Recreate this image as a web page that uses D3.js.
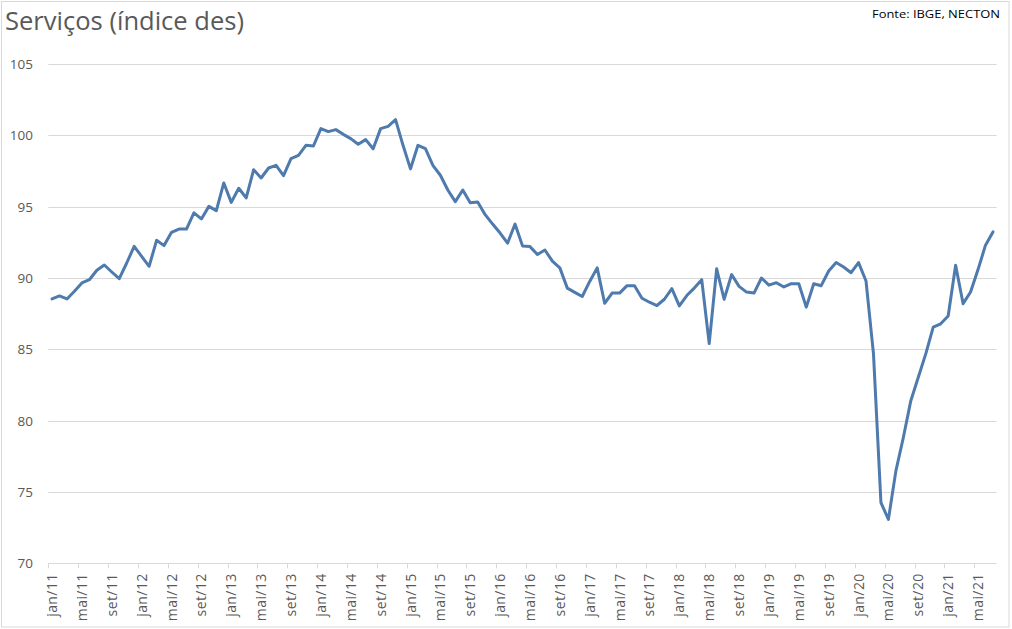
<!DOCTYPE html>
<html><head><meta charset="utf-8">
<script src="https://cdn.jsdelivr.net/npm/d3@7"></script>
<style>
html,body{margin:0;padding:0;background:#fff;}
svg{display:block;}
</style>
</head><body>
<svg id="chart" width="1012" height="629"></svg>
<script>
const title = "Serviços (índice des)";
const source = "Fonte: IBGE, NECTON";
const monthNames = ["jan","fev","mar","abr","mai","jun","jul","ago","set","out","nov","dez"];
const years = ["11","12","13","14","15","16","17","18","19","20","21"];
const yTicks = [70, 75, 80, 85, 90, 95, 100, 105];
const values = [
  88.53, 88.74, 88.53, 89.07, 89.65, 89.88, 90.54, 90.91, 90.42, 89.95, 91.05, 92.22,
  91.52, 90.82, 92.64, 92.27, 93.20, 93.43, 93.43, 94.56, 94.14, 95.02, 94.72, 96.66,
  95.30, 96.29, 95.61, 97.59, 97.01, 97.71, 97.90, 97.17, 98.36, 98.60, 99.30, 99.25,
  100.47, 100.26, 100.40, 100.07, 99.77, 99.37, 99.70, 99.06, 100.47, 100.63, 101.10, 99.30,
  97.65, 99.30, 99.06, 97.90, 97.20, 96.17, 95.35, 96.17, 95.28, 95.33, 94.44, 93.78,
  93.15, 92.44, 93.78, 92.25, 92.20, 91.65, 91.96, 91.18, 90.71, 89.29, 88.99, 88.70,
  89.76, 90.71, 88.23, 88.94, 88.94, 89.46, 89.46, 88.58, 88.30, 88.07, 88.51, 89.25,
  88.04, 88.77, 89.29, 89.88, 85.40, 90.64, 88.51, 90.24, 89.41, 89.01, 88.94, 90.00,
  89.50, 89.67, 89.37, 89.60, 89.60, 87.96, 89.60, 89.46, 90.49, 91.08, 90.77, 90.37,
  91.08, 89.79, 84.68, 74.25, 73.08, 76.48, 78.82, 81.40, 83.04, 84.68, 86.55, 86.79,
  87.33, 90.89, 88.20, 89.02, 90.59, 92.30, 93.23
];
const months = [];
for (const yy of years) for (const m of monthNames) months.push(m + "/" + yy);
const categories = months.slice(0, values.length);
const data = categories.map((c, i) => ({cat: c, v: values[i], i}));

const svg = d3.select("#chart");
const plotLeft = 48.3, plotRight = 996.7, plotTop = 64, plotBottom = 563.3;

// chart border
svg.append("rect").attr("x", 1.5).attr("y", 1.5).attr("width", 1007.5).attr("height", 625.5)
  .attr("fill", "#fff").attr("stroke", "#d9d9d9").attr("stroke-width", 1);

const x = d3.scaleBand().domain(categories).range([plotLeft, plotRight]).padding(0);
const y = d3.scaleLinear().domain([70, 105]).range([plotBottom, plotTop]);

// gridlines
svg.append("g").selectAll("line").data(yTicks).join("line")
  .attr("x1", plotLeft).attr("x2", plotRight)
  .attr("y1", d => Math.round(y(d)) + 0.5).attr("y2", d => Math.round(y(d)) + 0.5)
  .attr("stroke", "#d9d9d9").attr("stroke-width", 1);

// y labels
svg.append("g").selectAll("text").data(yTicks).join("text")
  .attr("x", 33).attr("y", d => y(d)).attr("dy", "0.36em")
  .attr("text-anchor", "end")
  .attr("font-family", "'Open Sans', sans-serif").attr("font-size", 13.5)
  .attr("fill", "#595959").text(d => d);

// x axis ticks at category boundaries every 4
const tickCats = categories.filter((c, i) => i % 4 === 0);
svg.append("g").selectAll("line").data(tickCats).join("line")
  .attr("x1", d => Math.round(x(d)) + 0.5).attr("x2", d => Math.round(x(d)) + 0.5)
  .attr("y1", plotBottom).attr("y2", plotBottom + 5)
  .attr("stroke", "#d9d9d9").attr("stroke-width", 1);

// x labels rotated
svg.append("g").selectAll("text").data(tickCats).join("text")
  .attr("transform", d => `translate(${x(d) + x.bandwidth() / 2},${plotBottom + 10}) rotate(-90)`)
  .attr("text-anchor", "end").attr("dy", "0.36em")
  .attr("font-family", "'Open Sans', sans-serif").attr("font-size", 14)
  .attr("letter-spacing", 0.4)
  .attr("fill", "#595959").text(d => d);

// line
const line = d3.line().x(d => x(d.cat) + x.bandwidth() / 2).y(d => y(d.v));
svg.append("path").datum(data).attr("d", line)
  .attr("fill", "none").attr("stroke", "#4e7aad").attr("stroke-width", 3)
  .attr("stroke-linejoin", "round").attr("stroke-linecap", "round");

// title
svg.append("text").attr("x", 5).attr("y", 30)
  .attr("font-family", "'Open Sans', sans-serif").attr("font-size", 25)
  .attr("fill", "#595959")
  .attr("textLength", 239).attr("lengthAdjust", "spacingAndGlyphs")
  .text(title);

// source
svg.append("text").attr("x", 1000).attr("y", 18).attr("text-anchor", "end")
  .attr("font-family", "'Open Sans', sans-serif").attr("font-size", 11)
  .attr("fill", "#000")
  .attr("textLength", 128).attr("lengthAdjust", "spacingAndGlyphs")
  .text(source);
</script>
</body></html>
